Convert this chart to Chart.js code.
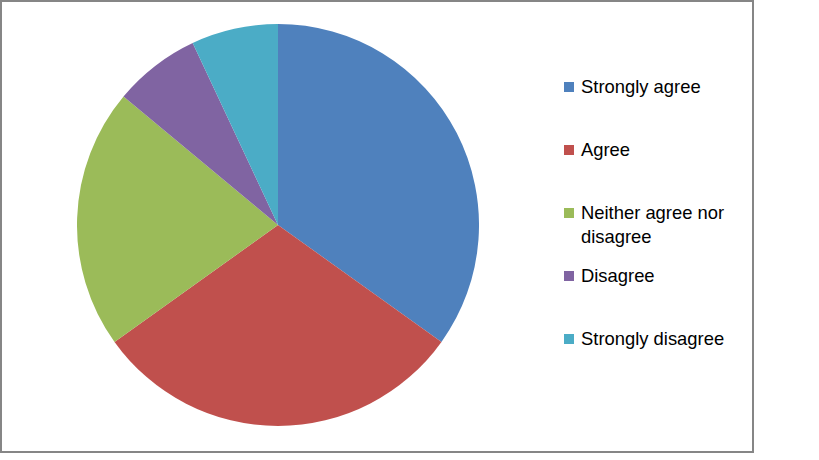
<!DOCTYPE html>
<html>
<head>
<meta charset="utf-8">
<script src="https://cdn.jsdelivr.net/npm/chart.js@4/dist/chart.umd.min.js"></script>
<style>
    html, body { margin: 0; padding: 0; background: #fff; }
    #frame {
        position: absolute; left: 0; top: 0; width: 750px; height: 449px;
        border: 2px solid #868686; background: #fff;
    }
    #pieBox { position: absolute; left: 75px; top: 22px; width: 402px; height: 402px; }
    #legend { position: absolute; left: 562px; top: 0; font-family: "Liberation Sans", Arial, sans-serif; font-size: 18.4px; color: #000; }
    .item { position: absolute; left: 0; width: 192px; display: flex; align-items: flex-start; line-height: 24px; }
    .swatch { width: 10px; height: 10px; margin-top: 7px; margin-right: 7px; flex: none; }
</style>
</head>
<body>
<div id="frame">
    <div id="pieBox"><canvas id="pieChart" width="402" height="402"></canvas></div>
    <div id="legend"></div>
</div>
<script>
// --- Data ---
const categories = ['Strongly agree', 'Agree', 'Neither agree nor disagree', 'Disagree', 'Strongly disagree'];
const responses = [15, 13, 9, 3, 3];
const sliceColors = ['#4F81BD', '#C0504D', '#9BBB59', '#8064A2', '#4BACC6'];

// --- Pie ---
const ctx = document.getElementById('pieChart').getContext('2d');
const pieChart = new Chart(ctx, {
    type: 'pie',
    data: {
        labels: categories,
        datasets: [{ data: responses, backgroundColor: sliceColors, borderWidth: 0 }]
    },
    options: {
        responsive: false, animation: false,
        layout: { padding: 0 },
        plugins: { legend: { display: false }, tooltip: { enabled: false } }
    }
});

// --- Legend (HTML, so long labels wrap like the original) ---
const legendBox = document.getElementById('legend');
categories.forEach((label, i) => {
    const item = document.createElement('div');
    item.className = 'item';
    item.style.top = (73 + i * 63) + 'px';
    item.innerHTML = `<span class="swatch" style="background:${sliceColors[i]}"></span><span>${label}</span>`;
    legendBox.appendChild(item);
});
</script>
</body>
</html>
